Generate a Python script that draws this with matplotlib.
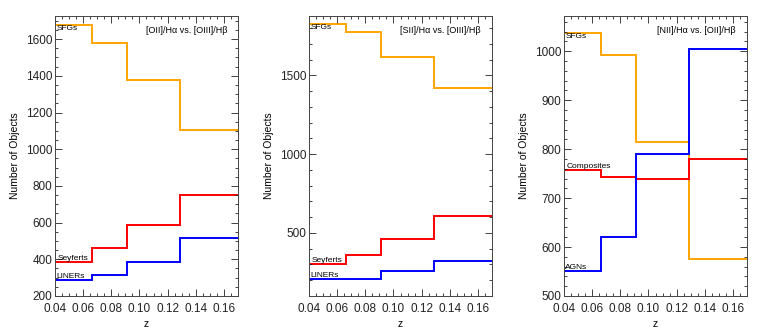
import matplotlib
matplotlib.use('Agg')
import matplotlib.pyplot as plt
from matplotlib.ticker import MultipleLocator, AutoMinorLocator

plt.rcParams['font.family'] = ['Liberation Sans', 'DejaVu Sans']
plt.rcParams['font.size'] = 6.5

# bordes de los bins en z
z_edges = [0.04, 0.066, 0.091, 0.129, 0.17]

# panel 1: [OII]/Ha vs [OIII]/Hb
p1_sfg = [1676, 1580, 1377, 1103]
p1_sey = [386, 461, 586, 750]
p1_lin = [288, 314, 387, 515]

# panel 2: [SII]/Ha vs [OIII]/Hb
p2_sfg = [1826, 1777, 1616, 1420]
p2_sey = [305, 360, 464, 606]
p2_lin = [210, 208, 259, 324]

# panel 3: [NII]/Ha vs [OII]/Hb
p3_sfg = [1038, 992, 815, 576]
p3_comp = [758, 744, 740, 779]
p3_agn = [552, 620, 790, 1005]

titulos = ['[OII]/Hα vs. [OIII]/Hβ',
           '[SII]/Hα vs. [OIII]/Hβ',
           '[NII]/Hα vs. [OII]/Hβ']

naranja = '#ffa500'
rojo = '#ff0000'
azul = '#0000ff'

fig = plt.figure(figsize=(7.63, 3.32), dpi=100)
W, H = 763, 332
lefts = [55, 309, 564]
ancho = 183
top, bottom = 16, 296

paneles = [
    (p1_sfg, p1_sey, p1_lin, 'Seyferts', 'LINERs', (200, 1726), 200, 4),
    (p2_sfg, p2_sey, p2_lin, 'Seyferts', 'LINERs', (100, 1876), 500, 5),
    (p3_sfg, p3_comp, p3_agn, 'Composites', 'AGNs', (500, 1072), 100, 5),
]

for i, (sfg, s2, s3, n2, n3, ylim, paso, nmin) in enumerate(paneles):
    ax = fig.add_axes([lefts[i] / W, 1 - bottom / H, ancho / W, (bottom - top) / H])
    ax.stairs(sfg, z_edges, color=naranja, lw=1.4, baseline=None)
    ax.stairs(s2, z_edges, color=rojo, lw=1.4, baseline=None)
    ax.stairs(s3, z_edges, color=azul, lw=1.4, baseline=None)
    ax.set_xlim(0.04, 0.17)
    ax.set_ylim(*ylim)
    ax.xaxis.set_minor_locator(AutoMinorLocator(4))
    ax.yaxis.set_major_locator(MultipleLocator(paso))
    ax.yaxis.set_minor_locator(AutoMinorLocator(nmin))
    ax.set_xticks([0.04, 0.06, 0.08, 0.10, 0.12, 0.14, 0.16])
    ax.set_xticklabels(['0.04', '0.06', '0.08', '0.10', '0.12', '0.14', '0.16'])
    ax.tick_params(which='both', direction='in', top=True, right=True, width=0.6,
                   labelsize=8.5, colors='#222222')
    ax.tick_params(axis='x', pad=5)
    ax.tick_params(axis='y', pad=2)
    ax.tick_params(which='major', length=5)
    ax.tick_params(which='minor', length=2.5)
    for sp in ax.spines.values():
        sp.set_linewidth(0.7)
        sp.set_color('#444444')
    ax.set_xlabel('z', labelpad=3, fontsize=7.5)
    ax.set_ylabel('Number of Objects', labelpad=4, fontsize=7.5)
    ax.text(0.94, 0.965, titulos[i], transform=ax.transAxes, ha='right', va='top', fontsize=6.5)
    # etiquetas de las clases
    ax.text(0.041, sfg[0], 'SFGs', ha='left', va='top', fontsize=6)
    ax.text(0.042, s2[0], n2, ha='left', va='bottom', fontsize=6)
    ax.text(0.041, s3[0], n3, ha='left', va='bottom', fontsize=6)

fig.savefig('out.png', dpi=100)
